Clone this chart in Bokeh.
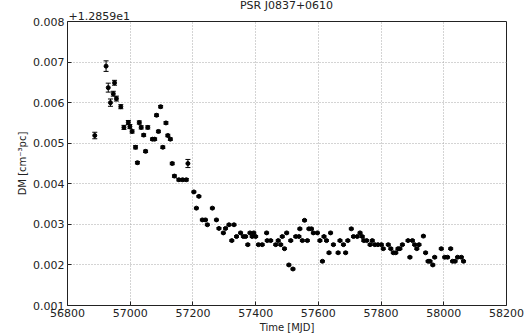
from bokeh.plotting import figure
from bokeh.models import ColumnDataSource, Whisker, TeeHead, Label, FixedTicker, PrintfTickFormatter, Range1d
from bokeh.embed import file_html
from bokeh.resources import INLINE

# MJD epochs
mjd = [56887, 56923, 56930, 56937, 56946, 56950, 56956, 56970, 56980, 56994,
       56999, 57006, 57017, 57023, 57029, 57035, 57043, 57049, 57056, 57071,
       57078, 57084, 57090, 57097, 57104, 57114, 57120, 57128, 57134, 57141,
       57155, 57167, 57179, 57184, 57203, 57211, 57219, 57230, 57240, 57246,
       57262, 57275, 57283, 57297, 57304, 57315, 57324, 57331, 57339, 57352,
       57361, 57368, 57375, 57382, 57389, 57394, 57400, 57409, 57421, 57435,
       57437, 57448, 57464, 57472, 57480, 57485, 57492, 57499, 57506, 57512,
       57519, 57528, 57538, 57541, 57549, 57556, 57565, 57570, 57578, 57584,
       57597, 57605, 57613, 57618, 57626, 57634, 57639, 57648, 57663, 57669,
       57680, 57687, 57694, 57705, 57712, 57724, 57733, 57740, 57745, 57754,
       57765, 57772, 57780, 57790, 57801, 57807, 57823, 57831, 57839, 57847,
       57854, 57860, 57868, 57886, 57892, 57900, 57907, 57914, 57921, 57935,
       57942, 57950, 57956, 57965, 57971, 57992, 58003, 58012, 58022, 58028,
       58036, 58044, 58056, 58063]

# DM minus offset 12.859 (cm^-3 pc)
dm = [0.00519, 0.00690, 0.00637, 0.00600, 0.00622, 0.00649, 0.00610, 0.00590, 0.00539, 0.00551,
      0.00541, 0.00529, 0.00490, 0.00452, 0.00551, 0.00539, 0.00520, 0.00480, 0.00539, 0.00510,
      0.00510, 0.00569, 0.00529, 0.00590, 0.00490, 0.00550, 0.00519, 0.00510, 0.00450, 0.00419,
      0.00410, 0.00410, 0.00410, 0.00450, 0.00380, 0.00340, 0.00369, 0.00311, 0.00311, 0.00299,
      0.00340, 0.00311, 0.00290, 0.00279, 0.00290, 0.00299, 0.00260, 0.00299, 0.00270, 0.00279,
      0.00270, 0.00270, 0.00250, 0.00279, 0.00270, 0.00279, 0.00270, 0.00250, 0.00250, 0.00279,
      0.00260, 0.00260, 0.00250, 0.00260, 0.00250, 0.00270, 0.00240, 0.00279, 0.00200, 0.00260,
      0.00190, 0.00270, 0.00270, 0.00289, 0.00260, 0.00310, 0.00260, 0.00289, 0.00289, 0.00279,
      0.00279, 0.00260, 0.00209, 0.00270, 0.00260, 0.00230, 0.00279, 0.00250, 0.00230, 0.00260,
      0.00250, 0.00230, 0.00260, 0.00289, 0.00270, 0.00270, 0.00279, 0.00270, 0.00260, 0.00260,
      0.00250, 0.00260, 0.00250, 0.00250, 0.00250, 0.00240, 0.00250, 0.00240, 0.00230, 0.00230,
      0.00240, 0.00240, 0.00250, 0.00260, 0.00219, 0.00260, 0.00250, 0.00240, 0.00250, 0.00271,
      0.00230, 0.00209, 0.00209, 0.00200, 0.00219, 0.00240, 0.00219, 0.00219, 0.00240, 0.00209,
      0.00209, 0.00219, 0.00219, 0.00209]

# DM uncertainties
dm_err = [0.00008, 0.00013, 0.00011, 0.00009, 0.00006, 0.00006, 0.00006, 0.00005, 0.00005, 0.00005,
          0.00005, 0.00004, 0.00004, 0.00003, 0.00004, 0.00004, 0.00003, 0.00003, 0.00004, 0.00003,
          0.00003, 0.00003, 0.00003, 0.00003, 0.00003, 0.00003, 0.00003, 0.00003, 0.00003, 0.00003,
          0.00003, 0.00003, 0.00003, 0.00010] + [0.00002] * 100

x_ticks = [56800, 57000, 57200, 57400, 57600, 57800, 58000, 58200]
y_ticks = [0.001, 0.002, 0.003, 0.004, 0.005, 0.006, 0.007, 0.008]

title_text = "PSR J0837+0610"
offset_text = "+1.2859e1"
x_label = "Time [MJD]"
y_label = "DM [cm\u207b\u00b3pc]"

FONT = "DejaVu Sans"

src = ColumnDataSource(dict(
    x=mjd, y=dm,
    lo=[v - e for v, e in zip(dm, dm_err)],
    hi=[v + e for v, e in zip(dm, dm_err)],
))

p = figure(width=525, height=335, output_backend="svg", toolbar_location=None,
           x_range=Range1d(56800, 58200), y_range=Range1d(0.001, 0.008),
           min_border_left=67, min_border_right=19, min_border_top=0, min_border_bottom=29)

p.background_fill_color = "white"
p.border_fill_color = "white"
p.outline_line_color = "#222222"
p.outline_line_width = 1

for ax in (p.xaxis[0], p.yaxis[0]):
    ax.major_tick_in = 4
    ax.major_tick_out = 0
    ax.minor_tick_line_color = None
    ax.axis_line_color = None
    ax.major_tick_line_color = "#222222"
    ax.major_label_text_font = FONT
    ax.major_label_text_font_size = "11px"
    ax.major_label_text_color = "#222222"
    ax.axis_label_text_font = FONT
    ax.axis_label_text_font_size = "10px"
    ax.axis_label_text_font_style = "normal"
    ax.axis_label_text_color = "#222222"
    ax.major_label_standoff = 3
    ax.axis_label_standoff = 2

p.xaxis[0].ticker = FixedTicker(ticks=x_ticks)
p.yaxis[0].ticker = FixedTicker(ticks=y_ticks)
p.yaxis[0].formatter = PrintfTickFormatter(format="%.3f")
p.xaxis[0].axis_label = x_label
p.yaxis[0].axis_label = y_label

p.xgrid.ticker = FixedTicker(ticks=x_ticks)
p.ygrid.ticker = FixedTicker(ticks=y_ticks)
for g in (p.xgrid[0], p.ygrid[0]):
    g.grid_line_color = "#a8a8a8"
    g.grid_line_dash = "1 2"
    g.grid_line_width = 1

w = Whisker(base="x", lower="lo", upper="hi", source=src, dimension="height",
            line_color="black", line_width=1,
            lower_head=TeeHead(size=5, line_color="black", line_width=1),
            upper_head=TeeHead(size=5, line_color="black", line_width=1))
p.add_layout(w)
p.scatter("x", "y", source=src, marker="circle", size=4, color="black")

p.add_layout(Label(x=1, y=2, x_units="screen", y_units="screen", text=offset_text,
                   text_align="left", text_baseline="bottom", text_font=FONT,
                   text_font_size="11px", text_color="#222222"), "above")
p.add_layout(Label(x=219, y=2, x_units="screen", y_units="screen", text=title_text,
                   text_align="center", text_baseline="bottom", text_font=FONT,
                   text_font_size="11px", text_color="#222222"), "above")

open("out.html", "w").write(file_html(p, INLINE))
